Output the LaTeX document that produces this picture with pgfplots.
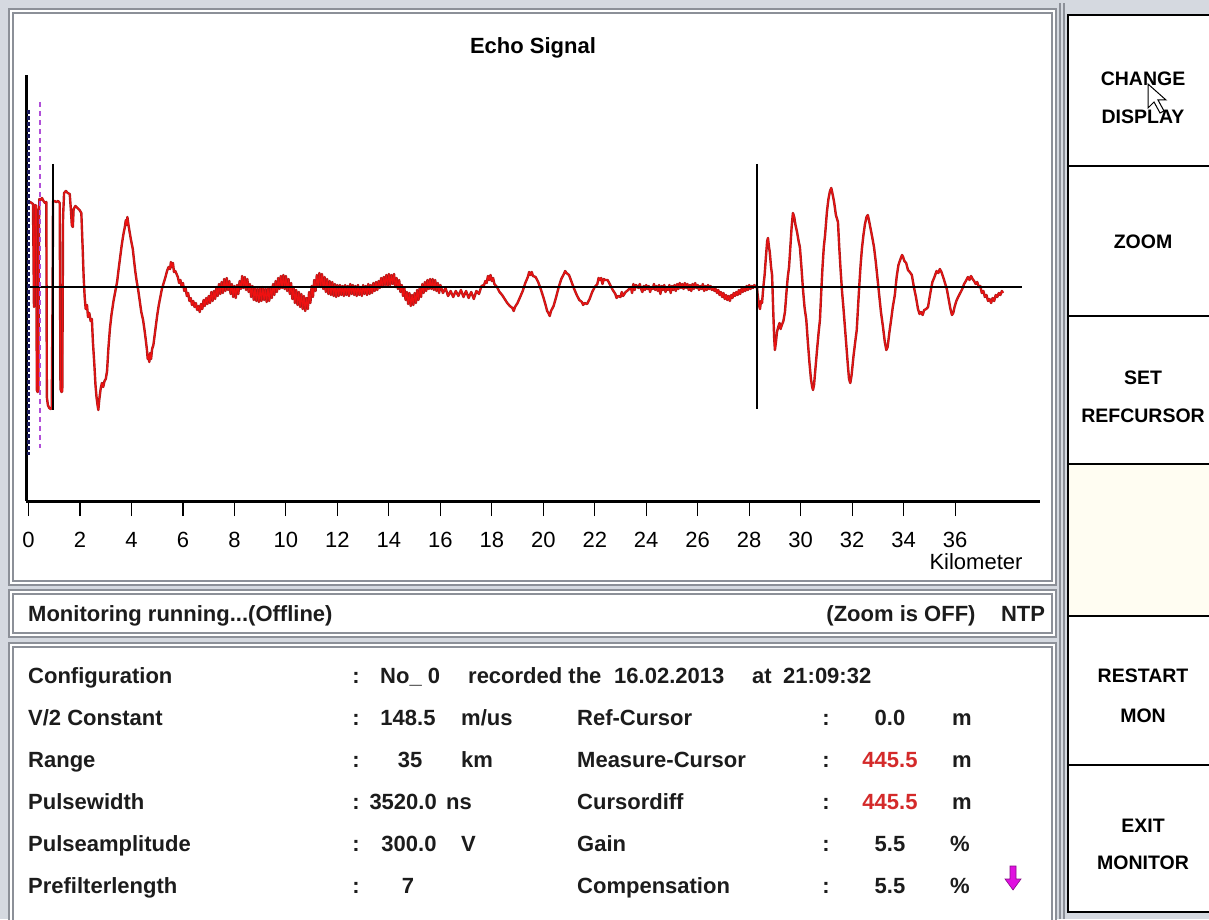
\documentclass[border=0pt]{standalone}
\usepackage{fontspec}
\setmainfont{Liberation Sans}
\usepackage{pgfplots}
\usepackage{pgfplotstable}
\pgfplotsset{compat=1.18}
\definecolor{bgc}{HTML}{D5D9E0}
\definecolor{frm}{HTML}{8C9098}
\definecolor{sigred}{HTML}{EE1111}
\definecolor{sigdark}{HTML}{A81C1C}
\definecolor{navy}{HTML}{1A1A5E}
\definecolor{curmag}{HTML}{B04FD8}
\definecolor{txt}{HTML}{1C1C1C}
\definecolor{valred}{HTML}{D42A2A}
\definecolor{cream}{HTML}{FFFDF2}
\definecolor{arrowmag}{HTML}{E010E0}
\newcommand\F{\fontsize{22}{26}\selectfont}
\newcommand\BT{\fontsize{19.5}{24}\selectfont\bfseries}

\pgfplotstableread{
x y
0.00 84
0.06 85
0.12 84
0.17 83
0.19 40
0.21 -20
0.23 30
0.26 82
0.30 81
0.32 -103
0.35 -105
0.38 -104
0.40 60
0.42 88
0.47 87
0.52 89
0.58 86
0.64 84
0.69 85
0.71 -110
0.75 -118
0.80 -121
0.86 -122
0.90 -120
0.93 -20
0.95 86
1.00 86
1.08 85
1.15 86
1.21 84
1.24 -102
1.28 -105
1.31 -104
1.34 70
1.38 94
1.45 96
1.52 94
1.60 93
1.65 75
1.68 62
1.72 60
1.75 78
1.82 81
1.90 79
1.98 77
2.05 74
2.10 40
2.14 10
2.18 -10
2.22 -22
2.27 -18
2.31 -30
2.36 -26
2.41 -34
2.46 -32
2.50 -55
2.55 -75
2.60 -98
2.64 -110
2.68 -118
2.71 -123
2.75 -112
2.80 -102
2.85 -96
2.90 -100
2.95 -94
3.00 -92
3.05 -84
3.10 -62
3.16 -42
3.22 -28
3.30 -14
3.38 -3
3.44 5
3.50 18
3.56 30
3.62 42
3.68 52
3.74 60
3.78 67
3.81 62
3.84 70
3.87 64
3.92 56
3.98 47
4.05 38
4.10 26
4.15 15
4.20 6
4.26 -3
4.32 -14
4.38 -25
4.45 -33
4.50 -42
4.55 -52
4.60 -63
4.63 -72
4.66 -68
4.69 -75
4.72 -66
4.76 -72
4.80 -62
4.85 -58
4.90 -48
4.95 -38
5.00 -28
5.06 -18
5.12 -10
5.18 -2
5.25 4
5.32 10
5.38 16
5.44 20
5.50 18
5.53 25
5.57 20
5.61 24
5.65 15
5.70 16
5.80 10
5.85 4
5.90 7
5.95 0
6.00 4
6.05 -4
6.10 -1
6.15 -9
6.20 -6
6.25 -14
6.30 -11
6.35 -18
6.40 -14
6.45 -20
6.50 -16
6.55 -23
6.60 -19
6.65 -25
6.70 -17
6.75 -22
6.80 -13
6.85 -19
6.90 -11
6.95 -17
7.00 -9
7.05 -16
7.10 -5
7.15 -14
7.20 -4
7.25 -12
7.30 0
7.35 -9
7.40 3
7.45 -7
7.50 5
7.55 -6
7.60 8
7.65 -4
7.70 9
7.75 -3
7.80 6
7.85 -7
7.90 3
7.95 -10
8.00 1
8.05 -11
8.10 2
8.15 -7
8.20 6
8.25 -2
8.30 11
8.35 -1
8.40 10
8.45 -3
8.50 8
8.55 -5
8.60 3
8.65 -10
8.70 1
8.75 -13
8.80 -1
8.85 -14
8.90 -2
8.95 -15
9.00 -1
9.05 -14
9.10 0
9.15 -13
9.20 -2
9.25 -15
9.30 -1
9.35 -14
9.40 0
9.45 -11
9.50 3
9.55 -8
9.60 6
9.65 -5
9.70 9
9.75 -2
9.80 11
9.85 -1
9.90 12
9.95 -2
10.00 11
10.05 -4
10.10 8
10.15 -7
10.20 4
10.25 -12
10.30 0
10.35 -16
10.40 -3
10.45 -18
10.50 -5
10.55 -20
10.60 -7
10.65 -22
10.70 -9
10.75 -24
10.80 -11
10.85 -22
10.90 -5
10.95 -16
11.00 1
11.05 -10
11.10 7
11.15 -4
11.20 12
11.25 1
11.30 14
11.35 0
11.40 13
11.45 -2
11.50 10
11.55 -5
11.60 8
11.65 -7
11.70 6
11.75 -8
11.80 5
11.85 -9
11.90 3
11.95 -10
12.00 2
12.05 -9
12.10 2
12.15 -8
12.20 1
12.25 -9
12.30 2
12.35 -8
12.40 1
12.45 -9
12.50 3
12.55 -7
12.60 2
12.65 -8
12.70 1
12.75 -9
12.80 2
12.85 -8
12.90 0
12.95 -9
13.00 2
13.05 -7
13.10 1
13.15 -8
13.20 3
13.25 -7
13.30 2
13.35 -6
13.40 4
13.45 -4
13.50 5
13.55 -3
13.60 6
13.65 -1
13.70 9
13.75 0
13.80 10
13.85 2
13.90 12
13.95 1
14.00 13
14.05 2
14.10 12
14.15 3
14.20 13
14.25 0
14.30 9
14.35 -2
14.40 7
14.45 -5
14.50 2
14.55 -9
14.60 -1
14.65 -13
14.70 -5
14.75 -17
14.80 -6
14.85 -19
14.90 -8
14.95 -18
15.00 -6
15.05 -16
15.10 -3
15.15 -13
15.20 0
15.25 -10
15.30 3
15.35 -6
15.40 5
15.45 -4
15.50 7
15.55 -2
15.60 8
15.65 -2
15.70 8
15.75 -3
15.80 7
15.85 -4
15.90 4
15.95 -6
16.00 2
16.10 -6
16.20 -1
16.30 -9
16.40 -4
16.50 -10
16.60 -4
16.70 -9
16.80 -3
16.90 -10
17.00 -4
17.10 -11
17.20 -5
17.30 -12
17.40 -4
17.50 -7
17.60 1
17.70 2
17.75 6
17.80 4
17.85 11
17.90 7
17.95 12
18.00 6
18.05 9
18.10 3
18.20 0
18.30 -5
18.40 -8
18.50 -12
18.60 -16
18.70 -19
18.80 -21
18.85 -24
18.90 -20
19.00 -16
19.10 -10
19.20 -4
19.30 4
19.40 10
19.45 15
19.50 12
19.55 15
19.60 11
19.70 10
19.80 5
19.90 -2
20.00 -10
20.10 -19
20.15 -24
20.20 -26
20.25 -29
20.30 -24
20.40 -19
20.50 -10
20.60 0
20.70 8
20.80 13
20.85 16
20.90 14
21.00 12
21.10 5
21.20 -2
21.30 -8
21.40 -13
21.50 -15
21.55 -18
21.60 -16
21.70 -17
21.80 -12
21.90 -5
22.00 0
22.10 3
22.15 9
22.20 7
22.25 9
22.30 3
22.35 8
22.40 7
22.50 7
22.60 2
22.70 -3
22.80 -7
22.85 -11
22.90 -9
23.00 -10
23.05 -5
23.10 -9
23.20 -5
23.30 -3
23.40 0
23.45 -6
23.50 3
23.55 -3
23.60 2
23.70 -1
23.75 3
23.80 -2
23.85 -5
23.90 1
23.95 -3
24.00 2
24.05 -2
24.10 1
24.15 -5
24.20 0
24.25 -2
24.30 3
24.35 -3
24.40 1
24.45 -4
24.50 2
24.55 -7
24.60 1
24.65 -3
24.70 2
24.75 -5
24.80 0
24.85 -3
24.90 2
24.95 -6
25.00 1
25.05 -3
25.10 2
25.15 -4
25.20 3
25.25 -2
25.30 4
25.35 -1
25.40 3
25.45 -2
25.50 4
25.55 -1
25.60 3
25.65 -3
25.70 2
25.75 -4
25.80 3
25.85 -2
25.90 4
25.95 -1
26.00 2
26.05 -3
26.10 1
26.15 -2
26.20 3
26.25 -4
26.30 1
26.35 -3
26.40 2
26.45 -2
26.50 1
26.55 -3
26.60 0
26.65 -4
26.70 -2
26.75 -6
26.80 -3
26.85 -8
26.90 -5
26.95 -10
27.00 -6
27.05 -12
27.10 -8
27.15 -13
27.20 -9
27.25 -14
27.30 -8
27.35 -11
27.40 -6
27.45 -9
27.50 -5
27.55 -8
27.60 -3
27.65 -7
27.70 -2
27.75 -5
27.80 -1
27.85 -4
27.90 1
27.95 -3
28.00 2
28.05 -2
28.10 1
28.15 -1
28.20 2
28.25 0
28.30 1
28.33 -8
28.38 -18
28.42 -22
28.46 -14
28.50 -16
28.55 0
28.60 12
28.65 30
28.70 46
28.73 49
28.77 40
28.80 35
28.85 20
28.89 12
28.93 -20
28.97 -50
29.00 -63
29.04 -55
29.08 -45
29.13 -40
29.18 -36
29.22 -42
29.27 -38
29.33 -34
29.39 -25
29.45 -5
29.50 10
29.55 20
29.60 40
29.65 60
29.70 74
29.75 70
29.80 62
29.86 55
29.92 46
29.97 40
30.03 20
30.09 -2
30.15 -20
30.22 -33
30.28 -55
30.34 -75
30.40 -92
30.45 -100
30.48 -103
30.52 -98
30.58 -80
30.64 -62
30.70 -45
30.75 -33
30.80 -5
30.85 20
30.90 40
30.95 52
31.02 75
31.08 88
31.14 96
31.19 99
31.24 93
31.30 85
31.37 72
31.45 65
31.50 40
31.55 18
31.61 -5
31.66 -20
31.72 -40
31.78 -60
31.84 -80
31.88 -92
31.93 -96
31.98 -88
32.05 -70
32.12 -55
32.18 -43
32.23 -20
32.28 2
32.33 22
32.38 38
32.44 52
32.50 63
32.56 70
32.61 72
32.66 66
32.72 58
32.78 50
32.85 40
32.92 25
33.00 5
33.06 -10
33.12 -25
33.20 -40
33.27 -55
33.33 -63
33.38 -60
33.45 -45
33.52 -32
33.58 -20
33.66 -8
33.73 10
33.80 22
33.88 28
33.94 32
33.98 30
34.03 26
34.10 24
34.17 17
34.24 15
34.32 12
34.40 0
34.48 -10
34.56 -22
34.62 -27
34.68 -25
34.74 -28
34.80 -23
34.88 -22
34.95 -20
35.00 -12
35.06 -3
35.12 5
35.20 10
35.28 16
35.35 14
35.41 18
35.47 15
35.55 9
35.62 3
35.68 -2
35.75 -12
35.82 -22
35.88 -28
35.93 -26
35.98 -20
36.05 -14
36.12 -10
36.20 -6
36.28 -2
36.35 3
36.42 6
36.50 10
36.56 7
36.62 11
36.68 8
36.74 6
36.80 3
36.86 5
36.92 0
36.98 1
37.04 -6
37.10 -4
37.16 -10
37.22 -8
37.28 -14
37.34 -12
37.40 -16
37.46 -11
37.52 -14
37.58 -8
37.64 -10
37.70 -6
37.76 -8
37.82 -4
37.86 -6
}\sig

\begin{document}
\begin{tikzpicture}[x=1pt,y=1pt]
\useasboundingbox (0,0) rectangle (1209,919);
\fill[bgc] (0,0) rectangle (1209,919);
% chart panel
\fill[white] (9,334) rectangle (1056,910);
\draw[frm, line width=1.2pt] (9,334) rectangle (1056,910);
\draw[frm, line width=1.2pt] (13,338) rectangle (1052,906);
% status panel
\fill[white] (9,282) rectangle (1056,329);
\draw[frm, line width=1.2pt] (9,282) rectangle (1056,329);
\draw[frm, line width=1.2pt] (13,286) rectangle (1052,325);
% info panel
\fill[white] (9,-5) rectangle (1056,276);
\draw[frm, line width=1.2pt] (9,-5) rectangle (1056,276);
\draw[frm, line width=1.2pt] (13,-5) rectangle (1052,272);
% right panel
\draw[frm, line width=1.2pt] (1060,0) -- (1060,916);
\draw[frm, line width=1.2pt] (1064,0) -- (1064,916);
\fill[white] (1067,7) rectangle (1209,904);
\fill[cream] (1067,303) rectangle (1209,455);
\foreach \yy in {904,753,603,455,303,154,7} \draw[black, line width=2.5pt] (1067,\yy) -- (1209,\yy);
\draw[black, line width=1.8pt] (1068,7) -- (1068,904);
\node[anchor=base, font=\BT] at (1143,833) {CHANGE};
\node[anchor=base, font=\BT] at (1143,795) {DISPLAY};
\node[anchor=base, font=\BT] at (1143,670) {ZOOM};
\node[anchor=base, font=\BT] at (1143,534) {SET};
\node[anchor=base, font=\BT] at (1143,496) {REFCURSOR};
\node[anchor=base, font=\BT] at (1143,237) {RESTART};
\node[anchor=base, font=\BT] at (1143,197) {MON};
\node[anchor=base, font=\BT] at (1143,87) {EXIT};
\node[anchor=base, font=\BT] at (1143,50) {MONITOR};
\draw[black, line width=1pt, fill=white] (1148,835) -- (1148,811) -- (1154,817) -- (1160,806) -- (1164,808) -- (1158,819) -- (1166,819) -- cycle;

\begin{axis}[
  at={(26pt,418pt)}, anchor=south west,
  width=1014pt, height=426pt, scale only axis,
  xmin=-0.1, xmax=39.3, ymin=-214, ymax=212,
  axis lines=left,
  axis line style={-, line width=3pt, black},
  xtick={0,2,...,36}, ytick=\empty,
  xtick align=outside, major tick length=15pt,
  tick style={black, line width=1.1pt},
  xticklabel style={font=\F, text=black, anchor=base, yshift=-31pt},
  /pgf/number format/assume math mode=true,
]
\addplot[sigdark, line width=2.4pt, line join=round] table[x=x,y=y] {\sig};
\addplot[sigred, line width=1.1pt, line join=round] table[x=x,y=y] {\sig};
\addplot[black, line width=1.2pt] coordinates {(-0.1,0) (38.6,0)};
\addplot[navy, line width=2.2pt, dash pattern=on 4pt off 2pt] coordinates {(0.0,177) (0.0,-168)};
\addplot[curmag, line width=1.4pt, dash pattern=on 5pt off 4pt] coordinates {(0.45,185) (0.45,-161)};
\addplot[black, line width=1.3pt] coordinates {(0.95,123) (0.95,-123)};
\addplot[black, line width=1.3pt] coordinates {(28.30,123) (28.30,-122)};
\end{axis}

\node[anchor=base, font=\F\bfseries] at (533,865) {Echo Signal};
\node[anchor=base, font=\F] at (976,350) {Kilometer};

% status bar
\node[anchor=base west, font=\F\bfseries, text=txt, inner sep=0pt] at (28,298) {Monitoring running...(Offline)};
\node[anchor=base, font=\F\bfseries, text=txt, inner sep=0pt] at (901,298) {(Zoom is OFF)};
\node[anchor=base, font=\F\bfseries, text=txt, inner sep=0pt] at (1023,298) {NTP};

% info panel
\begin{scope}[every node/.style={font=\F\bfseries, text=txt, inner sep=0pt}]
\node[anchor=base west] at (28,236) {Configuration};
\node[anchor=base west] at (28,194) {V/2 Constant};
\node[anchor=base west] at (28,152) {Range};
\node[anchor=base west] at (28,110) {Pulsewidth};
\node[anchor=base west] at (28,68) {Pulseamplitude};
\node[anchor=base west] at (28,26) {Prefilterlength};
\foreach \yy in {236,194,152,110,68,26} \node[anchor=base] at (356,\yy) {:};
\node[anchor=base west] at (380,236) {No\_ 0};
\node[anchor=base west] at (468,236) {recorded the};
\node[anchor=base west] at (614,236) {16.02.2013};
\node[anchor=base west] at (752,236) {at};
\node[anchor=base west] at (783,236) {21:09:32};
\node[anchor=base] at (408,194) {148.5};
\node[anchor=base west] at (461,194) {m/us};
\node[anchor=base] at (410,152) {35};
\node[anchor=base west] at (461,152) {km};
\node[anchor=base east] at (437,110) {3520.0};
\node[anchor=base west] at (446,110) {ns};
\node[anchor=base] at (409,68) {300.0};
\node[anchor=base west] at (461,68) {V};
\node[anchor=base] at (408,26) {7};
\node[anchor=base west] at (577,194) {Ref-Cursor};
\node[anchor=base west] at (577,152) {Measure-Cursor};
\node[anchor=base west] at (577,110) {Cursordiff};
\node[anchor=base west] at (577,68) {Gain};
\node[anchor=base west] at (577,26) {Compensation};
\foreach \yy in {194,152,110,68,26} \node[anchor=base] at (826,\yy) {:};
\node[anchor=base] at (890,194) {0.0};
\node[anchor=base, text=valred] at (890,152) {445.5};
\node[anchor=base, text=valred] at (890,110) {445.5};
\node[anchor=base] at (890,68) {5.5};
\node[anchor=base] at (890,26) {5.5};
\node[anchor=base] at (962,194) {m};
\node[anchor=base] at (962,152) {m};
\node[anchor=base] at (962,110) {m};
\node[anchor=base] at (960,68) {\%};
\node[anchor=base] at (960,26) {\%};
\end{scope}
\fill[arrowmag, draw=arrowmag!60!black, line width=0.6pt] (1010,53) -- (1016,53) -- (1016,40) -- (1021,40) -- (1013,29) -- (1005,40) -- (1010,40) -- cycle;
\end{tikzpicture}
\end{document}
